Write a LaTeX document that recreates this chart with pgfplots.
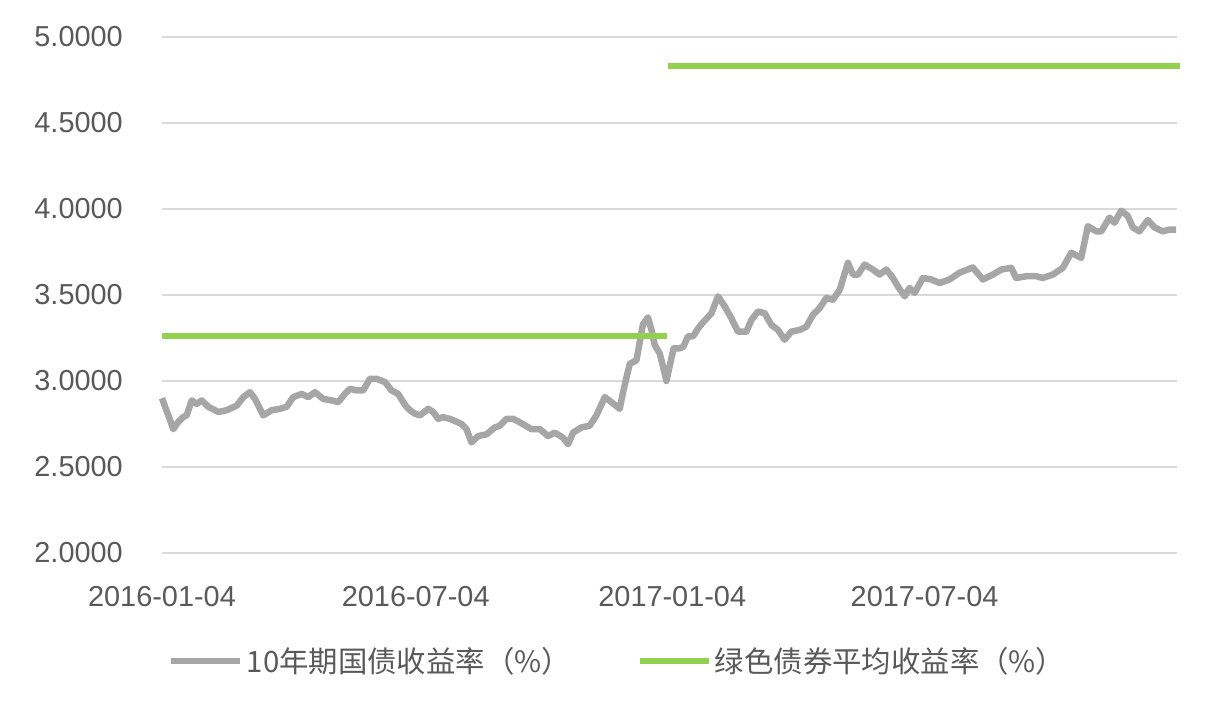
\documentclass[border=0pt]{standalone}
\usepackage{pgfplots}
\pgfplotsset{compat=1.18}
\usepackage{fontspec}
\setmainfont{Liberation Sans}
\newfontfamily\cjk{Noto Sans CJK SC}
\definecolor{bondgray}{HTML}{A6A6A6}
\definecolor{greenline}{HTML}{92D050}
\definecolor{gridgray}{HTML}{D9D9D9}
\definecolor{textgray}{HTML}{595959}
\begin{document}
\begin{tikzpicture}
\useasboundingbox (0,0) rectangle (1210bp,706bp);
\begin{axis}[
  at={(162bp,153bp)}, anchor=south west,
  scale only axis, width=1015bp, height=516bp,
  xmin=0, xmax=728, ymin=2, ymax=5,
  clip=false,
  axis line style={draw=none},
  major tick length=0pt,
  xtick={0,182,366,547},
  xticklabels={2016-01-04,2016-07-04,2017-01-04,2017-07-04},
  ytick={2,2.5,3,3.5,4,4.5,5},
  ymajorgrids,
  grid style={gridgray, line width=1.5bp},
  /pgf/number format/assume math mode=true,
  yticklabel={\pgfmathprintnumber[fixed,fixed zerofill,precision=4]{\tick}},
  tick label style={font=\fontsize{29}{32}\selectfont, text=textgray, inner sep=0pt},
  yticklabel style={anchor=east, xshift=-39bp},
  xticklabel style={anchor=north, yshift=-33bp},
  legend columns=2,
  legend style={draw=none, fill=none, at={(0.0059,-0.2093)}, anchor=west,
    inner sep=0pt, font=\cjk\fontsize{29.5}{31}\selectfont, text=textgray,
    nodes={inner sep=0pt, inner xsep=3bp},
    /tikz/every even column/.append style={column sep=63bp}},
  legend image code/.code={\draw[#1] (0bp,0bp) -- (69bp,0bp);},
]
\addplot[bondgray, line width=6.5bp, line join=round] table {
0 2.90
2.2 2.85
5.5 2.78
8.1 2.72
11.5 2.76
15.1 2.79
17.7 2.80
21.3 2.887
24.9 2.867
28.5 2.887
33.2 2.85
40.4 2.82
46.4 2.83
53.6 2.857
58.3 2.906
63.1 2.935
66.7 2.896
72.6 2.80
78.6 2.83
84.6 2.838
89.4 2.85
94.1 2.906
100.2 2.925
104.9 2.906
109.7 2.935
115.6 2.896
121.7 2.887
126.4 2.877
131.2 2.925
134.8 2.955
139.6 2.945
144.3 2.945
149.1 3.013
153.9 3.013
159.9 2.994
164.7 2.945
169.4 2.925
173 2.877
175.4 2.85
177.8 2.83
181.4 2.81
185 2.80
190.9 2.838
194.5 2.82
198.1 2.78
201.5 2.79
206.5 2.78
214.9 2.75
218.4 2.72
222 2.643
226.8 2.68
232.8 2.69
238.7 2.73
242.3 2.74
247.1 2.78
251.9 2.78
256.6 2.76
265 2.72
271 2.72
276.9 2.68
281.7 2.70
287.7 2.67
291.3 2.633
294.9 2.70
300.9 2.73
306.8 2.74
311.6 2.80
317.6 2.906
322.4 2.877
328.3 2.838
330.7 2.935
335.5 3.10
340.3 3.12
345 3.33
348.6 3.37
351 3.30
353.4 3.21
357 3.16
359.5 3.08
361.8 3.00
364.5 3.10
367 3.19
371.4 3.19
374 3.20
377.3 3.26
381 3.26
384 3.30
386.9 3.33
394.1 3.394
398.8 3.492
403.6 3.434
408.4 3.365
413.1 3.287
419.2 3.287
422.8 3.356
427.5 3.404
432.3 3.394
437.1 3.326
441.8 3.297
446.6 3.24
451.4 3.287
457.4 3.297
462.2 3.316
466.9 3.385
471.7 3.424
476.5 3.482
481.3 3.473
486.1 3.53
492 3.687
495.6 3.619
499.2 3.619
504 3.677
509.9 3.648
514.7 3.619
519.5 3.648
524.3 3.599
527.8 3.55
532.7 3.492
536.2 3.541
539.8 3.512
545.8 3.599
551.8 3.59
557.8 3.57
564.9 3.59
572.1 3.63
581.6 3.66
588.8 3.59
596 3.619
602 3.648
609.1 3.658
612.7 3.599
619.9 3.609
627.1 3.609
631.8 3.599
639 3.619
646.1 3.658
652.2 3.746
659.3 3.716
664.1 3.90
670.1 3.87
673.7 3.87
679.6 3.95
683.2 3.92
688 3.99
692.7 3.96
696.3 3.893
701.1 3.87
707.1 3.936
711.9 3.893
717.8 3.87
722.6 3.88
727.4 3.88
};
\addlegendentry{10年期国债收益率（\%）}
\addplot[greenline, line width=6bp, forget plot] table {
0 3.26
362 3.26
};
\addplot[greenline, line width=6bp] table {
363 4.83
730 4.83
};
\addlegendentry{绿色债券平均收益率（\%）}
\end{axis}
\end{tikzpicture}
\end{document}
